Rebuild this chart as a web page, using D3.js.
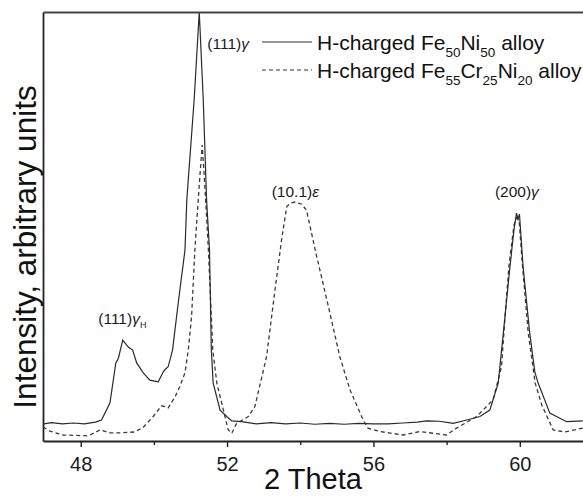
<!DOCTYPE html>
<html>
<head>
<meta charset="utf-8">
<script src="https://cdn.jsdelivr.net/npm/d3@7/dist/d3.min.js"></script>
<style>
  html, body { margin: 0; padding: 0; background: #fff; }
  svg { display: block; font-family: "Liberation Sans", Arial, sans-serif; }
</style>
</head>
<body>
<svg id="chart" width="583" height="496"></svg>
<script>
// ---- data (2 Theta, intensity in arbitrary units 0..100) ----
const feNiTheta = [47.0,47.2,47.5,47.8,48.1,48.4,48.57,48.8,48.96,49.03,49.15,49.3,49.42,49.53,49.71,49.89,50.12,50.26,50.3,50.39,50.51,50.62,50.71,50.85,50.9,51.1,51.24,51.35,51.44,51.52,51.57,51.62,51.81,51.99,52.13,52.4,52.8,53.2,53.6,54.0,54.4,54.8,55.2,55.6,56.0,56.4,56.8,57.2,57.45,57.8,58.18,58.55,58.91,59.18,59.41,59.55,59.73,59.84,59.91,59.95,59.99,60.09,60.27,60.41,60.5,60.82,61.28,61.72];
const feNiIntensity = [4.0,4.3,4.0,4.2,4.0,4.4,4.9,8.9,18.2,19.3,23.5,21.9,21.2,18.2,15.9,14.2,13.8,16.2,16.6,17.3,21.2,29.0,35.2,44.5,56.2,79.5,100,79.5,56.2,44.5,21.2,13.5,7.2,5.7,4.7,4.5,4.0,4.3,4.0,4.2,3.9,4.1,3.9,4.1,4.0,4.0,4.2,4.4,4.7,4.6,4.1,4.9,5.7,7.2,13.5,25.2,40.6,49.2,53.1,51.7,52.9,40.6,25.2,16.1,13.5,6.5,4.5,4.7];

const feCrNiTheta = [46.97,47.16,47.52,48.21,48.53,48.8,49.07,49.48,49.71,49.98,50.21,50.3,50.39,50.58,50.71,50.85,50.94,51.03,51.12,51.23,51.32,51.4,51.49,51.61,51.72,51.9,52.03,52.13,52.26,52.58,52.76,53.08,53.31,53.49,53.63,53.72,53.86,54.04,54.17,54.45,54.77,55.08,55.36,55.72,55.85,56.18,56.81,57.27,58.0,58.27,58.82,59.27,59.5,59.59,59.7,59.84,59.91,59.98,60.06,60.23,60.42,60.6,60.91,61.23,61.72];
const feCrNiIntensity = [3.3,2.3,1.4,1.2,2.6,1.9,1.9,2.1,3.2,5.7,8.2,8.0,7.7,10.3,12.7,15.9,21.2,29.0,44.5,58.5,69.0,58.5,44.5,21.2,13.5,7.2,2.6,1.8,4.1,5.7,8.0,19.7,35.2,46.9,54.6,55.4,55.7,55.2,53.8,43.0,31.3,19.7,11.9,4.9,3.0,2.2,1.4,2.2,1.4,3.0,5.7,9.6,17.3,28.2,40.6,50.3,52.0,51.5,42.2,25.2,13.5,8.4,2.6,2.1,3.0];

const majorTicks = [48, 52, 56, 60];
const minorTicks = [50, 54, 58];

const peakLabels = [
  { theta: 48.48, value: 27.3, text: "(111)", greek: "γ", sub: "H" },
  { theta: 51.46, value: 91.4, text: "(111)", greek: "γ", sub: "" },
  { theta: 53.22, value: 56.9, text: "(10.1)", greek: "ε", sub: "" },
  { theta: 59.32, value: 56.9, text: "(200)", greek: "γ", sub: "" }
];

const legendItems = [
  { dash: null, parts: [["H-charged Fe",""],["50","s"],["Ni",""],["50","s"],[" alloy",""]] },
  { dash: "4,3", parts: [["H-charged Fe",""],["55","s"],["Cr",""],["25","s"],["Ni",""],["20","s"],[" alloy",""]] }
];

// ---- layout ----
const svg = d3.select("#chart");
const mLeft = 43, mTop = 12, mBottom = 441, mRight = 593;

const x = d3.scaleLinear().domain([46.97, 62]).range([mLeft, mRight]);
const y = d3.scaleLinear().domain([0, 100]).range([mBottom, mTop]);

svg.append("clipPath").attr("id", "clip")
  .append("rect").attr("x", mLeft).attr("y", mTop - 2).attr("width", mRight - mLeft).attr("height", mBottom - mTop + 2);

const line = d3.line().x(d => x(d[0])).y(d => y(d[1]));

const s1 = feNiTheta.map((t, i) => [t, feNiIntensity[i]]);
const s2 = feCrNiTheta.map((t, i) => [t, feCrNiIntensity[i]]);

const plot = svg.append("g").attr("clip-path", "url(#clip)");
plot.append("path").datum(s2).attr("d", line)
  .attr("fill", "none").attr("stroke", "#3a3a3a").attr("stroke-width", 1.3)
  .attr("stroke-dasharray", "4,3");
plot.append("path").datum(s1).attr("d", line)
  .attr("fill", "none").attr("stroke", "#2a2a2a").attr("stroke-width", 1.2);

// ---- axes ----
const axisColor = "#222";
const xAxis = svg.append("g").attr("transform", `translate(0,${mBottom})`)
  .call(d3.axisBottom(x).tickValues(majorTicks).tickSize(6).tickSizeOuter(0).tickFormat(d3.format("d")));
xAxis.select(".domain").attr("stroke", axisColor).attr("stroke-width", 1.8);
xAxis.selectAll(".tick line").attr("stroke", axisColor).attr("stroke-width", 1.4);
xAxis.selectAll(".tick text").attr("font-size", 20).attr("fill", "#1a1a1a")
  .attr("font-family", "Liberation Sans, Arial, sans-serif").attr("dy", "0").attr("y", 30);

const xMinor = svg.append("g").attr("transform", `translate(0,${mBottom})`)
  .call(d3.axisBottom(x).tickValues(minorTicks).tickSize(4).tickSizeOuter(0).tickFormat(""));
xMinor.select(".domain").remove();
xMinor.selectAll(".tick line").attr("stroke", axisColor).attr("stroke-width", 1.4);

const yAxis = svg.append("g").attr("transform", `translate(${mLeft},0)`)
  .call(d3.axisLeft(y).tickValues([]).tickSizeOuter(0));
yAxis.select(".domain").attr("stroke", axisColor).attr("stroke-width", 1.8);

const topAxis = svg.append("g").attr("transform", `translate(0,${mTop})`)
  .call(d3.axisTop(x).tickValues([]).tickSizeOuter(0));
topAxis.select(".domain").attr("stroke", "#444").attr("stroke-width", 1.8);

// ---- axis titles ----
svg.append("text").attr("x", 313).attr("y", 489).attr("text-anchor", "middle")
  .attr("font-size", 29).attr("fill", "#111").text("2 Theta");

svg.append("text").attr("transform", "translate(36,247) rotate(-90)")
  .attr("text-anchor", "middle").attr("font-size", 31.5).attr("fill", "#111")
  .text("Intensity, arbitrary units");

// ---- peak labels ----
peakLabels.forEach(p => {
  const t = svg.append("text").attr("x", x(p.theta)).attr("y", y(p.value))
    .attr("text-anchor", "start").attr("font-size", 15.5).attr("fill", "#1a1a1a");
  t.append("tspan").text(p.text);
  t.append("tspan").attr("font-style", "italic").text(p.greek);
  if (p.sub) t.append("tspan").attr("font-size", 9).attr("dy", 4).text(p.sub);
});

// ---- legend ----
legendItems.forEach((item, i) => {
  const ly = 42 + i * 28;
  svg.append("line").attr("x1", 262).attr("x2", 312).attr("y1", ly).attr("y2", ly)
    .attr("stroke", "#333").attr("stroke-width", 1.2)
    .attr("stroke-dasharray", item.dash);
  const t = svg.append("text").attr("x", 317).attr("y", ly + 7.5)
    .attr("font-size", 21).attr("fill", "#111");
  let shifted = false;
  item.parts.forEach(([s, kind]) => {
    const ts = t.append("tspan").text(s);
    if (kind === "s") {
      ts.attr("font-size", 13.5).attr("dy", shifted ? 0 : 7);
      shifted = true;
    } else {
      if (shifted) ts.attr("dy", -7);
      shifted = false;
    }
  });
});
</script>
</body>
</html>
